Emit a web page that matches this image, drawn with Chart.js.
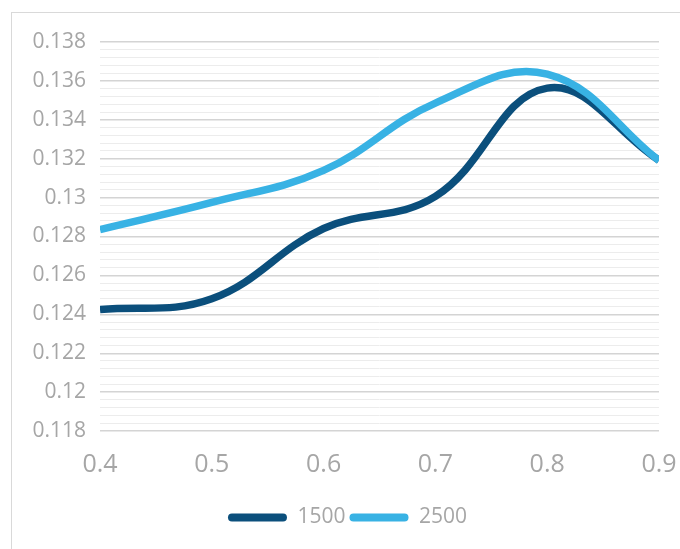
<!DOCTYPE html>
<html><head><meta charset="utf-8">
<script src="https://cdn.jsdelivr.net/npm/chart.js@4/dist/chart.umd.min.js"></script>
<style>
html,body{margin:0;padding:0;background:#fff;overflow:hidden;}
#frame{position:absolute;left:11px;top:12px;width:720px;height:600px;border:1px solid #d9d9d9;box-sizing:border-box;}
#wrap{position:absolute;left:0;top:0;width:680px;height:549px;}
</style></head>
<body>
<div id="frame"></div>
<div id="wrap"><canvas id="c"></canvas></div>
<script>
const xValues = [0.4, 0.5, 0.6, 0.7, 0.8, 0.9];
const series1500 = [0.12424, 0.1248, 0.12841, 0.13006, 0.13563, 0.13192];
const series2500 = [0.12836, 0.12975, 0.1314, 0.13486, 0.13635, 0.1319];
const seriesNames = ['1500', '2500'];
const yMajorTicks = [0.118, 0.12, 0.122, 0.124, 0.126, 0.128, 0.13, 0.132, 0.134, 0.136, 0.138];
const xTicks = [0.4, 0.5, 0.6, 0.7, 0.8, 0.9];
const minorPerMajor = 5;

const colors = ['#0b4f7c', '#38b2e4'];
const toPts = arr => arr.map((v, i) => ({x: xValues[i], y: v}));

const legendShift = {
  id: 'legendShift',
  afterLayout(chart) {
    if (chart.legend) { chart.legend.left += 8; chart.legend.right += 8; }
  }
};

new Chart(document.getElementById('c'), {
  type: 'line',
  plugins: [legendShift],
  data: {
    datasets: [
      {label: seriesNames[0], data: toPts(series1500), borderColor: colors[0], backgroundColor: colors[0], borderWidth: 7.5, pointRadius: 0, tension: 0.4, order: 2},
      {label: seriesNames[1], data: toPts(series2500), borderColor: colors[1], backgroundColor: colors[1], borderWidth: 7.5, pointRadius: 0, tension: 0.4, order: 1}
    ]
  },
  options: {
    responsive: true, maintainAspectRatio: false, animation: false,
    layout: {padding: {left: 20, right: 21, top: 42, bottom: 11}},
    plugins: {
      tooltip: {enabled: false},
      legend: {
        position: 'bottom',
        labels: {
          font: {family: 'Open Sans', size: 21}, color: '#a6a6a6',
          boxWidth: 59, boxHeight: 8, padding: 4, useBorderRadius: true, borderRadius: 4,
          generateLabels: chart => chart.data.datasets.map((ds, i) => ({
            text: ds.label, fillStyle: ds.borderColor, strokeStyle: ds.borderColor, lineWidth: 0,
            fontColor: '#a6a6a6', datasetIndex: i, hidden: false, borderRadius: 4
          }))
        }
      }
    },
    scales: {
      x: {
        type: 'linear', min: xTicks[0], max: xTicks[xTicks.length - 1],
        afterBuildTicks: s => { s.ticks = xTicks.map(v => ({value: v})); },
        afterFit: s => { s.height = 72; s.paddingRight = 0; s.paddingLeft = 0; },
        grid: {display: false}, border: {display: false},
        ticks: {font: {family: 'Open Sans', size: 25}, color: '#a6a6a6', padding: 11, maxRotation: 0,
          callback: v => String(Number(v.toFixed(3)))}
      },
      y: {
        min: yMajorTicks[0], max: yMajorTicks[yMajorTicks.length - 1],
        afterBuildTicks: s => {
          const t = [];
          for (let i = 0; i < yMajorTicks.length - 1; i++) {
            const a = yMajorTicks[i], b = yMajorTicks[i + 1];
            for (let k = 0; k < minorPerMajor; k++) t.push({value: a + (b - a) * k / minorPerMajor});
          }
          t.push({value: yMajorTicks[yMajorTicks.length - 1]});
          s.ticks = t;
        },
        afterFit: s => { s.width = 80; },
        border: {display: false},
        grid: {drawTicks: false,
          color: c => (c.index % minorPerMajor === 0 ? '#d4d4d4' : '#ececec'),
          lineWidth: c => (c.index % minorPerMajor === 0 ? 1.4 : 1)},
        ticks: {autoSkip: false, font: {family: 'Open Sans', size: 21}, color: '#a6a6a6', padding: 14,
          callback: (v, i) => (i % minorPerMajor === 0 ? String(Number(v.toFixed(3))) : '')}
      }
    }
  }
});
</script>
</body></html>
